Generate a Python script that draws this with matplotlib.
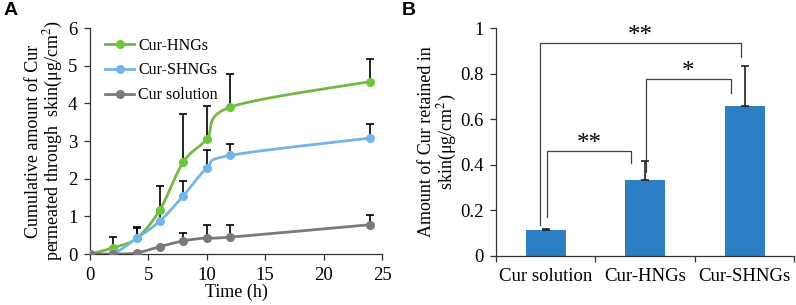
import matplotlib
matplotlib.use("Agg")
import matplotlib.pyplot as plt
import numpy as np

# Panel A data
time_h = [0, 2, 4, 6, 8, 10, 12, 24]
hngs = [0, 0.17, 0.42, 1.18, 2.45, 3.05, 3.90, 4.58]
hngs_err = [0, 0.28, 0.30, 0.62, 1.27, 0.87, 0.88, 0.60]
shngs = [0, 0.02, 0.42, 0.88, 1.55, 2.28, 2.62, 3.08]
shngs_err = [0, 0, 0.28, 0.20, 0.38, 0.49, 0.30, 0.38]
sol = [0, 0, 0.03, 0.20, 0.35, 0.43, 0.45, 0.78]
sol_err = [0, 0, 0, 0, 0.22, 0.34, 0.32, 0.27]

# Panel B data
groups = ["Cur solution", "Cur-HNGs", "Cur-SHNGs"]
retained = [0.115, 0.335, 0.66]
retained_err = [0.004, 0.082, 0.172]

green = "#6cc83a"
green_line = "#74b845"
blue = "#73b5ea"
gray = "#7a7a7a"
bar_col = "#2c7fc2"

plt.rcParams["font.family"] = ["Liberation Serif", "DejaVu Serif"]
plt.rcParams["mathtext.fontset"] = "stix"


def smooth(x, y, n=24):
    # Excel-like smoothed line (Catmull-Rom Bezier)
    x = np.asarray(x, float)
    y = np.asarray(y, float)
    px, py = [], []
    for i in range(len(x) - 1):
        x0, y0 = (x[i - 1], y[i - 1]) if i > 0 else (x[i], y[i])
        x3, y3 = (x[i + 2], y[i + 2]) if i + 2 < len(x) else (x[i + 1], y[i + 1])
        c1x = x[i] + (x[i + 1] - x0) / 6
        c1y = y[i] + (y[i + 1] - y0) / 6
        c2x = x[i + 1] - (x3 - x[i]) / 6
        c2y = y[i + 1] - (y3 - y[i]) / 6
        t = np.linspace(0, 1, n)
        b0, b1, b2, b3 = (1 - t) ** 3, 3 * t * (1 - t) ** 2, 3 * t ** 2 * (1 - t), t ** 3
        px.extend(b0 * x[i] + b1 * c1x + b2 * c2x + b3 * x[i + 1])
        py.extend(b0 * y[i] + b1 * c1y + b2 * c2y + b3 * y[i + 1])
    return px, py


fig = plt.figure(figsize=(7.96, 3.05), dpi=100)
axA = fig.add_axes([0.113, 0.167, 0.367, 0.741])
axB = fig.add_axes([0.623, 0.161, 0.375, 0.747])

spine_col = "#333333"
tick_fs = 13.5

# ---- Panel A
series = [
    (hngs, hngs_err, green_line, green, "Cur-HNGs"),
    (shngs, shngs_err, blue, blue, "Cur-SHNGs"),
    (sol, sol_err, gray, gray, "Cur solution"),
]
for vals, err, lc, mc, lab in series:
    axA.errorbar(time_h, vals, yerr=[np.zeros(len(err)), err], fmt="none",
                 ecolor="black", elinewidth=1.2, capsize=3, capthick=1.2, zorder=2)
for vals, err, lc, mc, lab in series:
    sx, sy = smooth(time_h, vals)
    axA.plot(sx, sy, color=lc, lw=2, zorder=3)
    axA.plot(time_h, vals, "o", color=mc, ms=5.5, zorder=4)
    axA.plot([], [], color=lc, lw=2, marker="o", mfc=mc, mec=mc, ms=5.5, label=lab)

axA.set_xlim(0, 25)
axA.set_ylim(0, 6)
axA.set_xticks([0, 5, 10, 15, 20, 25])
axA.set_yticks(range(7))
axA.set_xlabel("Time (h)", fontsize=13, labelpad=0)
axA.set_ylabel("Cumulative amount of Cur\npermeated through  skin(μg/cm$^{2}$)",
               fontsize=13, labelpad=2, linespacing=1.0)
axA.legend(loc="upper left", frameon=False, fontsize=11.5, handlelength=1.8,
           handletextpad=0.25, labelspacing=0.55, borderaxespad=0.2,
           bbox_to_anchor=(0.02, 1.0))

# ---- Panel B
xpos = np.arange(len(groups))
axB.bar(xpos, retained, width=0.4, color=bar_col, zorder=2)
axB.errorbar(xpos, retained, yerr=[np.zeros(3), retained_err], fmt="none",
             ecolor="#222222", elinewidth=1.2, capsize=3, capthick=1.2, zorder=3)
axB.set_xlim(-0.5, 2.5)
axB.set_ylim(0, 1)
axB.set_yticks([0, 0.2, 0.4, 0.6, 0.8, 1])
axB.set_yticklabels(["0", "0.2", "0.4", "0.6", "0.8", "1"])
axB.set_xticks([-0.5, 0.5, 1.5, 2.5])
axB.set_xticklabels([])
axB.set_xticks(xpos, minor=True)
axB.set_xticklabels(groups, minor=True)
axB.tick_params(axis="x", which="minor", length=0, pad=9)
axB.set_ylabel("Amount of Cur retained in\nskin(μg/cm$^{2}$)", fontsize=13,
               labelpad=1, linespacing=1.0)

br = "#404040"
axB.plot([-0.056, -0.056, 1.967, 1.967], [0.135, 0.934, 0.934, 0.875], color=br, lw=0.9)
axB.plot([0.01, 0.01, 0.857, 0.857], [0.17, 0.462, 0.462, 0.406], color=br, lw=0.9)
axB.plot([1.004, 1.004, 1.86, 1.86], [0.37, 0.776, 0.776, 0.714], color=br, lw=0.9)
axB.text(0.955, 0.915, "**", ha="center", va="bottom", fontsize=18)
axB.text(0.44, 0.443, "**", ha="center", va="bottom", fontsize=18)
axB.text(1.43, 0.757, "*", ha="center", va="bottom", fontsize=18)

for ax in (axA, axB):
    ax.spines["top"].set_visible(False)
    ax.spines["right"].set_visible(False)
    for s in ("left", "bottom"):
        ax.spines[s].set_color(spine_col)
        ax.spines[s].set_linewidth(0.9)
    ax.tick_params(which="major", direction="out", length=4, width=0.9,
                   color=spine_col, labelsize=tick_fs, pad=5)
    ax.tick_params(which="minor", labelsize=tick_fs)

fig.text(0.004, 0.995, "A", fontsize=14, fontweight="bold", va="top",
         family=["Liberation Sans", "DejaVu Sans"])
fig.text(0.505, 0.995, "B", fontsize=14, fontweight="bold", va="top",
         family=["Liberation Sans", "DejaVu Sans"])

fig.savefig("out.png", dpi=100)
